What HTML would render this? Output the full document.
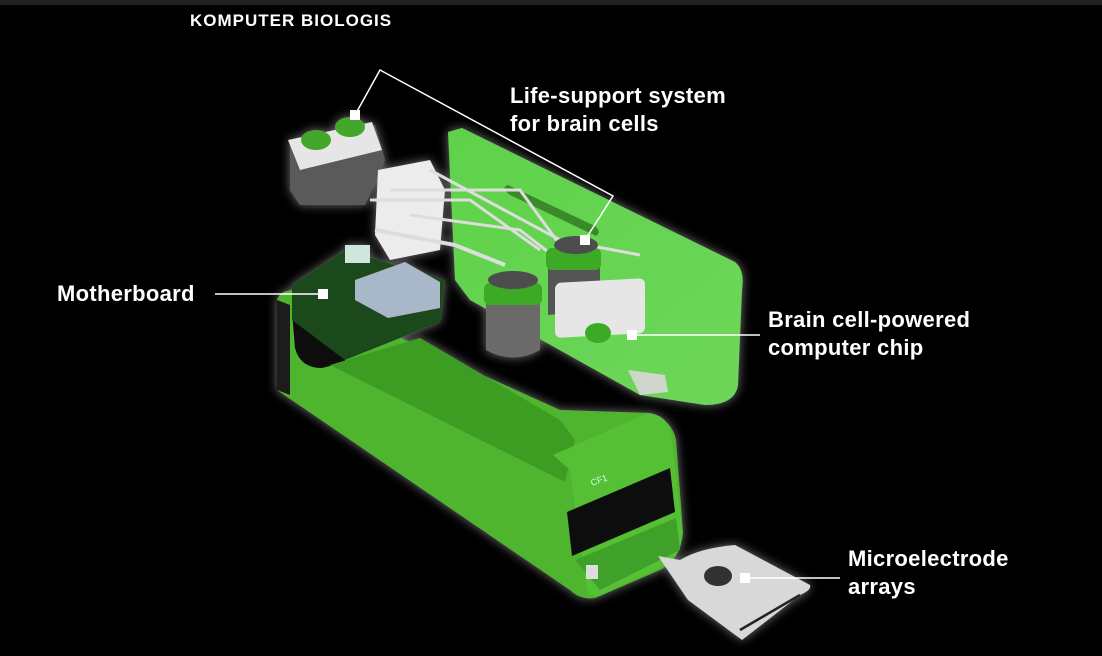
<!DOCTYPE html>
<html><head><meta charset="utf-8"><style>
html,body{margin:0;padding:0;background:#000;}
body{width:1102px;height:656px;position:relative;overflow:hidden;font-family:"Liberation Sans",sans-serif;}
.t{position:absolute;color:#fff;font-weight:bold;font-size:22px;line-height:28px;letter-spacing:0.3px;}
</style></head><body>
<div style="position:absolute;left:0;top:0;width:1102px;height:5px;background:#222"></div>
<div class="t" style="left:190px;top:7px;font-size:17px;letter-spacing:1px;">KOMPUTER BIOLOGIS</div>
<svg width="1102" height="656" style="position:absolute;left:0;top:0">
<defs>
<filter id="g" x="-20%" y="-20%" width="140%" height="140%"><feGaussianBlur in="SourceAlpha" stdDeviation="6"/><feFlood flood-color="#fff" flood-opacity="0.45"/><feComposite operator="in" in2="SourceAlpha"/><feGaussianBlur stdDeviation="5"/><feMerge><feMergeNode/><feMergeNode in="SourceGraphic"/></feMerge></filter>
<linearGradient id="lid" x1="0" y1="0" x2="1" y2="1"><stop offset="0" stop-color="#5fd24a"/><stop offset="1" stop-color="#6ed65a"/></linearGradient>
</defs>
<g filter="url(#g)">
<path d="M448,132 L462,128 L735,262 Q745,270 742,290 L738,385 Q735,405 705,405 L640,395 L470,300 L455,280 Z" fill="url(#lid)"/>
<path d="M508,185 L595,226 Q602,232 596,236 L510,195 Q500,188 508,185Z" fill="#3b8a2a"/>
<path d="M277,300 Q280,290 295,290 L560,410 L650,413 Q672,420 676,440 L683,533 Q680,560 660,570 L595,598 Q580,600 570,590 L277,390 Z" fill="#4fb52e"/>
<path d="M292,312 Q292,300 305,300 L345,318 L345,362 L322,368 Q300,368 295,348 Z" fill="#0a0a0a"/>
<path d="M330,365 L565,482 L575,440 L560,420 L420,338 Z" fill="#3d9d23"/>
<path d="M277,300 L277,390 L290,395 L290,305 Z" fill="#1a1a1a"/>
<path d="M553,455 L648,413 Q670,415 672,440 L682,530 Q683,555 665,565 L600,596 Q588,598 586,585 L570,470 Z" fill="#56c036"/>
<path d="M567,512 L670,468 L675,512 L572,556 Z" fill="#111"/>
<path d="M575,560 L676,518 L680,550 L600,590 Z" fill="#3fa12a"/>
<rect x="586" y="565" width="12" height="14" fill="#ddd"/>
<text x="592" y="486" fill="#cfe" font-size="9" transform="rotate(-20 592 486)">CF1</text>
<path d="M292,285 L345,250 L445,280 L440,322 L345,360 L292,320 Z" fill="#1f4a1c"/>
<path d="M355,280 L405,262 L440,282 L440,308 L388,318 L355,300 Z" fill="#a9b8c8"/>
<rect x="345" y="245" width="25" height="18" fill="#cfe6e0"/>
<path d="M290,140 L375,125 L385,160 L365,205 L300,205 L290,190 Z" fill="#5a5a5a"/>
<path d="M288,140 L372,122 L382,150 L300,170 Z" fill="#e6e6e6"/>
<ellipse cx="316" cy="140" rx="15" ry="10" fill="#43a72a"/>
<ellipse cx="350" cy="127" rx="15" ry="10" fill="#43a72a"/>
<path d="M378,170 L430,160 L445,190 L440,250 L390,260 L375,235 Z" fill="#ececec"/>
<path d="M375,230 L455,245 L505,265" stroke="#ddd" stroke-width="4" fill="none"/>
<path d="M370,200 L470,200 L540,250" stroke="#ddd" stroke-width="3" fill="none"/>
<path d="M390,190 L520,190 L600,300" stroke="#ddd" stroke-width="3" fill="none"/>
<path d="M430,170 L560,240 L640,255" stroke="#ddd" stroke-width="3" fill="none"/>
<path d="M410,215 L520,230 L610,300" stroke="#ddd" stroke-width="3" fill="none"/>
<path d="M486,290 L540,290 L540,350 Q513,365 486,350 Z" fill="#6a6a6a"/>
<rect x="484" y="283" width="58" height="22" rx="6" fill="#3eaa28"/>
<ellipse cx="513" cy="280" rx="25" ry="9" fill="#4d4d4d"/>
<path d="M548,255 L600,255 L600,310 L548,315 Z" fill="#555"/>
<rect x="546" y="248" width="55" height="22" rx="6" fill="#3eaa28"/>
<ellipse cx="576" cy="245" rx="22" ry="9" fill="#4d4d4d"/>
<rect x="555" y="312" width="90" height="55" rx="6" fill="#e6e6e6" transform="skewY(-3)"/>
<ellipse cx="598" cy="333" rx="13" ry="10" fill="#3eaa28"/>
<path d="M628,370 L665,375 L668,392 L640,395 Z" fill="#cfd7cc"/>
<path d="M658,556 L680,560 Q700,548 735,545 L810,585 Q812,590 800,595 L742,640 L688,600 Z" fill="#d8d8d8"/>
<ellipse cx="718" cy="576" rx="14" ry="10" fill="#333"/>
<path d="M740,630 L800,595" stroke="#222" stroke-width="2.5"/>
</g>
<g stroke="#fff" stroke-width="1.5" fill="none">
<path d="M355,115 L380,70 L613,196 L585,240"/>
<path d="M215,294 L323,294"/>
<path d="M632,335 L760,335"/>
<path d="M745,578 L840,578"/>
</g>
<g fill="#fff">
<rect x="350" y="110" width="10" height="10"/>
<rect x="580" y="235" width="10" height="10"/>
<rect x="318" y="289" width="10" height="10"/>
<rect x="627" y="330" width="10" height="10"/>
<rect x="740" y="573" width="10" height="10"/>
</g>
</svg>
<div class="t" style="left:510px;top:82px;">Life-support system<br>for brain cells</div>
<div class="t" style="left:57px;top:280px;">Motherboard</div>
<div class="t" style="left:768px;top:306px;">Brain cell-powered<br>computer chip</div>
<div class="t" style="left:848px;top:545px;">Microelectrode<br>arrays</div>
</body></html>
